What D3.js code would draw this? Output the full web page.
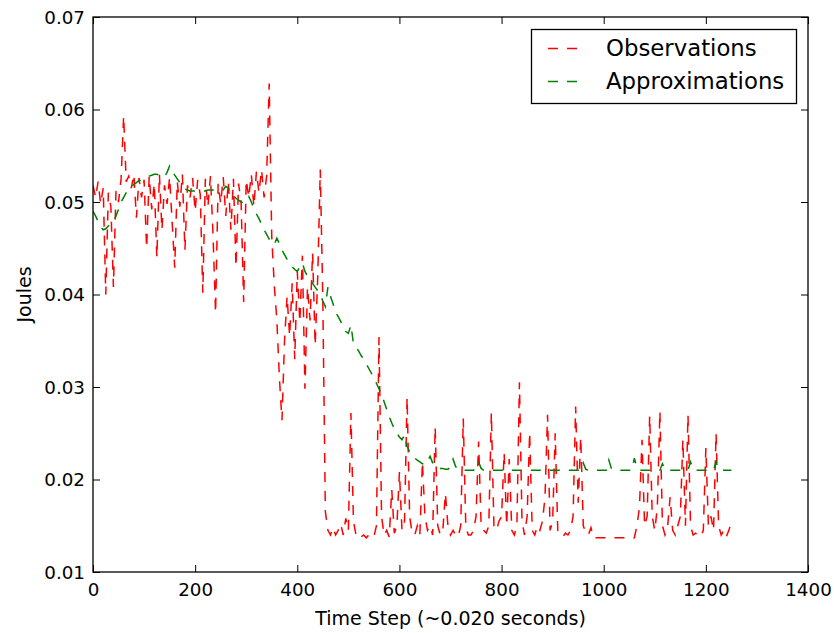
<!DOCTYPE html>
<html lang="en">
<head>
  <meta charset="UTF-8">
  <title>Joules per Time Step</title>
  <style>
    body { margin: 0; background: #fff; }
    svg text { font-family: "DejaVu Sans", sans-serif; fill: #000; }
    .tick-label { font-size: 18.3px; }
    .axis-label { font-size: 19px; }
    .legend text { font-size: 22.8px; }
  </style>
</head>
<body>
<svg class="chart"></svg>

<script src="https://d3js.org/d3.v7.min.js"></script>
<script>
  // time steps, one sample every 5 steps
  const timeSteps = d3.range(0, 1251, 5);

  const observations = [
    0.0518, 0.0505, 0.0522, 0.0498, 0.0515, 0.0400, 0.0510, 0.0495, 0.0408, 0.0512,
    0.0500, 0.0525, 0.0593, 0.0522, 0.0528, 0.0515, 0.0530, 0.0483, 0.0526, 0.0505,
    0.0524, 0.0450, 0.0528, 0.0492, 0.0520, 0.0440, 0.0530, 0.0470, 0.0518, 0.0498,
    0.0527, 0.0478, 0.0429, 0.0522, 0.0495, 0.0530, 0.0448, 0.0518, 0.0505, 0.0526,
    0.0490, 0.0524, 0.0508, 0.0402, 0.0525, 0.0495, 0.0528, 0.0465, 0.0380, 0.0520,
    0.0498, 0.0527, 0.0485, 0.0522, 0.0470, 0.0525, 0.0430, 0.0520, 0.0500, 0.0392,
    0.0524, 0.0505, 0.0530, 0.0495, 0.0533, 0.0510, 0.0535, 0.0505, 0.0528, 0.0628,
    0.0462, 0.0410, 0.0372, 0.0310, 0.0264, 0.0350, 0.0398, 0.0355, 0.0412, 0.0330,
    0.0425, 0.0370, 0.0442, 0.0298, 0.0408, 0.0372, 0.0445, 0.0345, 0.0418, 0.0535,
    0.0395, 0.0165, 0.0145, 0.0140, 0.0148, 0.0140, 0.0145, 0.0152, 0.0140, 0.0158,
    0.0145, 0.0272, 0.0155, 0.0140, 0.0142, 0.0138, 0.0140, 0.0137, 0.0140, 0.0137,
    0.0138, 0.0150, 0.0354, 0.0160, 0.0140, 0.0145, 0.0138, 0.0189, 0.0142, 0.0150,
    0.0208, 0.0145, 0.0155, 0.0289, 0.0160, 0.0142, 0.0140, 0.0150, 0.0140, 0.0219,
    0.0160, 0.0145, 0.0150, 0.0140, 0.0257, 0.0150, 0.0140, 0.0145, 0.0185, 0.0150,
    0.0140, 0.0145, 0.0140, 0.0138, 0.0150, 0.0266, 0.0148, 0.0140, 0.0140, 0.0145,
    0.0160, 0.0241, 0.0150, 0.0145, 0.0142, 0.0150, 0.0272, 0.0150, 0.0145, 0.0155,
    0.0160, 0.0229, 0.0150, 0.0222, 0.0145, 0.0140, 0.0150, 0.0305, 0.0155, 0.0140,
    0.0160, 0.0251, 0.0145, 0.0140, 0.0150, 0.0145, 0.0155, 0.0180, 0.0270, 0.0145,
    0.0155, 0.0250, 0.0145, 0.0140, 0.0138, 0.0142, 0.0140, 0.0145, 0.0160, 0.0279,
    0.0175, 0.0246, 0.0150, 0.0142, 0.0140, 0.0148, 0.0137, 0.0137, 0.0137, 0.0137,
    0.0137, 0.0137, 0.0137, 0.0137, 0.0137, 0.0137, 0.0137, 0.0137, 0.0137, 0.0137,
    0.0137, 0.0137, 0.0137, 0.0150, 0.0170, 0.0243, 0.0150, 0.0160, 0.0269, 0.0160,
    0.0145, 0.0170, 0.0274, 0.0150, 0.0140, 0.0148, 0.0181, 0.0145, 0.0140, 0.0150,
    0.0160, 0.0243, 0.0150, 0.0270, 0.0150, 0.0140, 0.0142, 0.0140, 0.0138, 0.0145,
    0.0234, 0.0150, 0.0160, 0.0145, 0.0250, 0.0150, 0.0140, 0.0145, 0.0138, 0.0145,
    0.0154
  ];

  const approximations = [
    0.0490, 0.0485, 0.0479, 0.0473, 0.0470, 0.0471, 0.0474, 0.0477, 0.0478, 0.0485,
    0.0492, 0.0500, 0.0505, 0.0510, 0.0513, 0.0516, 0.0519, 0.0521, 0.0523, 0.0524,
    0.0526, 0.0527, 0.0528, 0.0529, 0.0530, 0.0530, 0.0529, 0.0528, 0.0527, 0.0532,
    0.0539, 0.0534, 0.0529, 0.0525, 0.0521, 0.0517, 0.0514, 0.0513, 0.0512, 0.0512,
    0.0512, 0.0512, 0.0512, 0.0512, 0.0512, 0.0513, 0.0513, 0.0513, 0.0513, 0.0513,
    0.0513, 0.0513, 0.0517, 0.0515, 0.0511, 0.0507, 0.0504, 0.0502, 0.0500, 0.0499,
    0.0502, 0.0506, 0.0500, 0.0493, 0.0487, 0.0482, 0.0476, 0.0470, 0.0465, 0.0460,
    0.0456, 0.0454, 0.0461, 0.0455, 0.0448, 0.0443, 0.0438, 0.0434, 0.0430, 0.0427,
    0.0425, 0.0430, 0.0434, 0.0425, 0.0420, 0.0416, 0.0412, 0.0408, 0.0404, 0.0400,
    0.0393, 0.0387, 0.0408, 0.0398, 0.0390, 0.0381, 0.0376, 0.0371, 0.0365, 0.0360,
    0.0358, 0.0367, 0.0347, 0.0343, 0.0339, 0.0334, 0.0330, 0.0325, 0.0320, 0.0315,
    0.0310, 0.0304, 0.0298, 0.0292, 0.0284, 0.0276, 0.0268, 0.0261, 0.0255, 0.0250,
    0.0246, 0.0243, 0.0248, 0.0236, 0.0230, 0.0226, 0.0223, 0.0221, 0.0219, 0.0217,
    0.0216, 0.0220, 0.0225, 0.0218, 0.0214, 0.0213, 0.0212, 0.0212, 0.0211, 0.0211,
    0.0214, 0.0222, 0.0214, 0.0211, 0.0210, 0.0210, 0.0210, 0.0210, 0.0210, 0.0210,
    0.0213, 0.0219, 0.0212, 0.0210, 0.0210, 0.0210, 0.0210, 0.0210, 0.0210, 0.0210,
    0.0210, 0.0210, 0.0210, 0.0210, 0.0210, 0.0210, 0.0210, 0.0210, 0.0210, 0.0210,
    0.0210, 0.0210, 0.0210, 0.0210, 0.0210, 0.0210, 0.0210, 0.0210, 0.0210, 0.0210,
    0.0210, 0.0210, 0.0210, 0.0210, 0.0210, 0.0210, 0.0210, 0.0210, 0.0210, 0.0210,
    0.0210, 0.0210, 0.0218, 0.0211, 0.0210, 0.0210, 0.0210, 0.0210, 0.0210, 0.0210,
    0.0210, 0.0210, 0.0221, 0.0212, 0.0210, 0.0210, 0.0210, 0.0210, 0.0210, 0.0210,
    0.0210, 0.0210, 0.0223, 0.0213, 0.0210, 0.0210, 0.0210, 0.0210, 0.0210, 0.0210,
    0.0210, 0.0210, 0.0210, 0.0217, 0.0211, 0.0210, 0.0210, 0.0210, 0.0210, 0.0210,
    0.0210, 0.0210, 0.0210, 0.0210, 0.0219, 0.0211, 0.0210, 0.0210, 0.0210, 0.0210,
    0.0210, 0.0210, 0.0210, 0.0210, 0.0219, 0.0211, 0.0210, 0.0210, 0.0210, 0.0210,
    0.0210
  ];

  const xTicks = [0, 200, 400, 600, 800, 1000, 1200, 1400];
  const yTicks = [0.01, 0.02, 0.03, 0.04, 0.05, 0.06, 0.07];
  const seriesNames = ['Observations', 'Approximations'];
  const seriesColors = ['#ff0000', '#008000'];

  // Chart dimensions
  const width = 834;
  const height = 633;
  const margin = { top: 17, right: 26, bottom: 61, left: 93 };
  const innerW = width - margin.left - margin.right;
  const innerH = height - margin.top - margin.bottom;
  const dash = '10,9';

  const svg = d3.select('.chart')
    .attr('width', width)
    .attr('height', height);

  const g = svg.append('g')
    .attr('transform', `translate(${margin.left},${margin.top})`);

  const xScale = d3.scaleLinear().domain([0, 1400]).range([0, innerW]);
  const yScale = d3.scaleLinear().domain([0.01, 0.07]).range([innerH, 0]);

  g.append('clipPath').attr('id', 'plot-clip')
    .append('rect').attr('width', innerW).attr('height', innerH);

  // lines
  const line = d3.line()
    .x(d => xScale(d[0]))
    .y(d => yScale(d[1]));

  const series = [observations, approximations];
  series.forEach((vals, i) => {
    g.append('path')
      .datum(timeSteps.map((t, j) => [t, vals[j]]))
      .attr('clip-path', 'url(#plot-clip)')
      .attr('fill', 'none')
      .attr('stroke', seriesColors[i])
      .attr('stroke-width', 1.5)
      .attr('stroke-dasharray', dash)
      .attr('d', line);
  });

  // axes, ticks pointing inward on all four sides
  const tickLen = 7;
  const fmtX = d3.format('d');
  const fmtY = d3.format('.2f');

  const axBottom = g.append('g').attr('transform', `translate(0,${innerH})`)
    .call(d3.axisBottom(xScale).tickValues(xTicks).tickSize(-tickLen).tickPadding(11).tickFormat(fmtX));
  const axTop = g.append('g')
    .call(d3.axisTop(xScale).tickValues(xTicks).tickSize(-tickLen).tickFormat(''));
  const axLeft = g.append('g')
    .call(d3.axisLeft(yScale).tickValues(yTicks).tickSize(-tickLen).tickPadding(8).tickFormat(fmtY));
  const axRight = g.append('g').attr('transform', `translate(${innerW},0)`)
    .call(d3.axisRight(yScale).tickValues(yTicks).tickSize(-tickLen).tickFormat(''));

  [axBottom, axTop, axLeft, axRight].forEach(ax => {
    ax.attr('font-size', null).attr('font-family', null);
    ax.select('.domain').remove();
    ax.selectAll('.tick line').attr('stroke', '#000').attr('stroke-width', 1);
    ax.selectAll('.tick text').attr('class', 'tick-label');
  });
  axLeft.selectAll('.tick text').attr('dy', '0.35em');

  // frame
  g.append('rect')
    .attr('width', innerW)
    .attr('height', innerH)
    .attr('fill', 'none')
    .attr('stroke', '#000')
    .attr('stroke-width', 1.3);

  // axis labels
  svg.append('text')
    .attr('class', 'axis-label')
    .attr('x', margin.left + innerW / 2)
    .attr('y', 625)
    .attr('text-anchor', 'middle')
    .text('Time Step (~0.020 seconds)');

  svg.append('text')
    .attr('class', 'axis-label')
    .attr('transform', `translate(31,${margin.top + innerH / 2}) rotate(-90)`)
    .attr('text-anchor', 'middle')
    .text('Joules');

  // legend
  const legend = svg.append('g').attr('class', 'legend');
  legend.append('rect')
    .attr('x', 531.5).attr('y', 29.5)
    .attr('width', 265).attr('height', 74)
    .attr('fill', '#fff')
    .attr('stroke', '#000')
    .attr('stroke-width', 1.3);

  seriesNames.forEach((name, i) => {
    const cy = 48.5 + i * 33;
    legend.append('line')
      .attr('x1', 548).attr('x2', 577)
      .attr('y1', cy).attr('y2', cy)
      .attr('stroke', seriesColors[i])
      .attr('stroke-width', 1.5)
      .attr('stroke-dasharray', dash);
    legend.append('text')
      .attr('x', 606)
      .attr('y', cy + 7)
      .text(name);
  });
</script>
</body>
</html>
